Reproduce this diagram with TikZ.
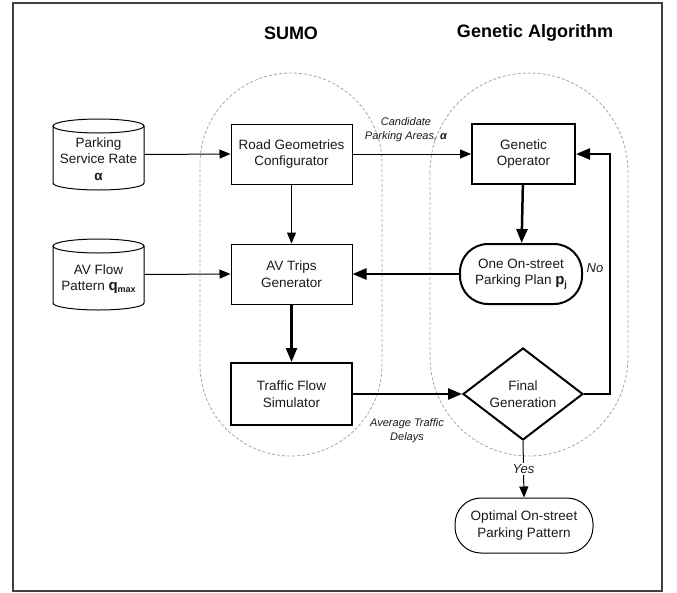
\documentclass[tikz,border=0pt]{standalone}
\usepackage{fontspec}
\setmainfont{Liberation Sans}
\usetikzlibrary{arrows.meta,shapes.geometric}
\begin{document}
\begin{tikzpicture}[x=1pt,y=-1pt,
  txt/.style={font=\fontsize{13.5}{16.5}\selectfont, align=center, text=black!90},
  thinbox/.style={txt, draw, line width=1pt, minimum width=121pt, minimum height=60pt, inner sep=0pt},
  thickbox/.style={thinbox, line width=2pt},
  lab/.style={font=\fontsize{11}{14}\selectfont\itshape, align=center, text=black!90},
  yesno/.style={font=\fontsize{13}{15}\selectfont\itshape, text=black!90},
  thinarrow/.style={line width=1pt, -{Triangle[length=11pt,width=9pt]}},
  thickarrow/.style={line width=2.5pt, -{Triangle[length=14pt,width=11pt]}},
  region/.style={draw=black!35, line width=0.8pt, dash pattern=on 3pt off 2pt},
  heading/.style={font=\fontsize{18}{20}\selectfont\bfseries},
  cylbody/.style={minimum width=91pt, minimum height=71pt, inner sep=0pt},
  cylline/.style={line width=1pt}
]
\useasboundingbox (0,0) rectangle (677,592);
\draw[black!75, line width=1.3pt] (13,3) rectangle (662,591);

% regions
\draw[region, rounded corners=91pt] (200,73) rectangle (382,456);
\draw[region, rounded corners=99pt] (430,73) rectangle (628,456);

% headings
\node[heading] (t1) at (291,33) {SUMO};
\node[heading] (t2) at (535,33) {Genetic Algorithm};

% cylinder 1
\node[cylbody] (psr) at (98.5,154.5) {};
\draw[cylline, fill=white] (53,126) -- (53,183) arc[start angle=180,end angle=360,x radius=45.5pt,y radius=7pt] -- (144,126);
\draw[cylline] (98.5,126) ellipse[x radius=45.5pt, y radius=7pt];
\node[txt] (psrt) at (98.5,159) {Parking\\Service Rate\\\textbf{α}};

% cylinder 2
\node[cylbody] (avf) at (98.5,274.5) {};
\draw[cylline, fill=white] (53,246) -- (53,303) arc[start angle=180,end angle=360,x radius=45.5pt,y radius=7pt] -- (144,246);
\draw[cylline] (98.5,246) ellipse[x radius=45.5pt, y radius=7pt];
\node[txt] (avft) at (98.5,279) {AV Flow\\Pattern {\fontsize{15}{16}\selectfont\bfseries q}\raisebox{-0.3ex}{\fontsize{9}{9}\selectfont\bfseries max}};

% SUMO nodes
\node[thinbox] (rgc) at (291.5,154) {Road Geometries\\Configurator};
\node[thinbox] (avt) at (291.5,274) {AV Trips\\Generator};
\node[thickbox, minimum height=62pt] (tfs) at (291.5,394) {Traffic Flow\\Simulator};

% GA nodes
\node[thickbox, minimum width=103pt] (go) at (523.5,154) {Genetic\\Operator};
\node[txt, draw, line width=2pt, rounded corners=28pt, minimum width=122pt, minimum height=60pt, inner sep=0pt] (plan) at (521,274) {One On-street\\Parking Plan {\fontsize{15}{16}\selectfont\bfseries p}\raisebox{-0.3ex}{\fontsize{9}{9}\selectfont\bfseries j}};
\node[txt, draw, diamond, aspect=1.3, line width=2pt, minimum width=120pt, minimum height=92pt, inner sep=0pt] (fg) at (523,394) {Final\\Generation};
\node[txt, draw, line width=1pt, rounded corners=26pt, minimum width=138pt, minimum height=55pt, inner sep=0pt] (opt) at (524,525.5) {Optimal On-street\\Parking Pattern};

% connectors
\draw[thinarrow] (psr.east) -- (rgc.west);
\draw[thinarrow] (avf.east) -- (avt.west);
\draw[thinarrow] (rgc) -- (avt);
\draw[thickarrow] (avt) -- (tfs);
\draw[thickarrow] (tfs.east) -- (fg.west);
\draw[thinarrow] (rgc.east) -- (go.west);
\draw[thickarrow] (go) -- (plan);
\draw[thickarrow] (plan.west) -- (avt.east);
\coordinate (fb) at (610,154);
\draw[thickarrow] (fg.east) -| (fb) -- (go.east);
\draw[thinarrow] (fg.south) -- (opt.north) node[yesno, midway, fill=white, inner sep=1.5pt] (yes) {Yes};

% labels
\node[lab] (cpa) at (406,130) {Candidate\\Parking Areas, \textbf{α}};
\node[lab] (atd) at (407,431) {Average Traffic\\Delays};
\node[yesno] (no) at (595,268) {No};
\end{tikzpicture}
\end{document}
